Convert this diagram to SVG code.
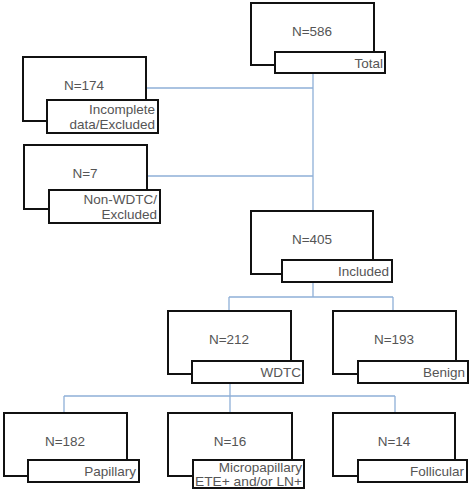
<svg xmlns="http://www.w3.org/2000/svg" width="472" height="493" viewBox="0 0 472 493">
<style>
.m{fill:#fff;stroke:#111;stroke-width:2}
.l{fill:#fff;stroke:#111;stroke-width:2}
.n{font-family:"Liberation Sans",Arial,sans-serif;font-size:13.5px;fill:#555;text-anchor:middle}
.t{font-family:"Liberation Sans",Arial,sans-serif;font-size:13.5px;fill:#555;text-anchor:end}
.c{fill:none;stroke:#8fb0d8;stroke-width:1.3}
</style>
<rect width="472" height="493" fill="#fff"/>
<g id="connectors">
<path class="c" d="M313 73V211M147 88H313M147 176H313"/>
<path class="c" d="M313 282V297M229 297H393M229 297V311M393 297V311"/>
<path class="c" d="M230 383V396M64 396H395M64 396V413M230 396V413M395 396V413"/>
</g>
<g id="total">
<rect class="m" x="251" y="3" width="123" height="62"/>
<text class="n" x="312" y="36">N=586</text>
<rect class="l" x="275" y="52" width="110" height="21"/>
<text class="t" x="383" y="68">Total</text>
</g>
<g id="incomplete">
<rect class="m" x="23" y="57" width="123" height="64"/>
<text class="n" x="84" y="90">N=174</text>
<rect class="l" x="47" y="100" width="111" height="33"/>
<text class="t" x="155" y="114">Incomplete</text>
<text class="t" x="155" y="129">data/Excluded</text>
</g>
<g id="nonwdtc">
<rect class="m" x="24" y="145" width="123" height="64"/>
<text class="n" x="85" y="178">N=7</text>
<rect class="l" x="49" y="190" width="111" height="33"/>
<text class="t" x="157" y="204">Non-WDTC/</text>
<text class="t" x="157" y="219">Excluded</text>
</g>
<g id="included">
<rect class="m" x="251" y="211" width="122" height="63"/>
<text class="n" x="312" y="244">N=405</text>
<rect class="l" x="282" y="260" width="110" height="22"/>
<text class="t" x="389" y="276">Included</text>
</g>
<g id="wdtc">
<rect class="m" x="168" y="311" width="123" height="63"/>
<text class="n" x="229" y="344">N=212</text>
<rect class="l" x="192" y="361" width="111" height="22"/>
<text class="t" x="301" y="377">WDTC</text>
</g>
<g id="benign">
<rect class="m" x="333" y="311" width="123" height="63"/>
<text class="n" x="394" y="344">N=193</text>
<rect class="l" x="358" y="361" width="110" height="22"/>
<text class="t" x="465" y="377">Benign</text>
</g>
<g id="papillary">
<rect class="m" x="4" y="413" width="123" height="63"/>
<text class="n" x="65" y="446">N=182</text>
<rect class="l" x="28" y="460" width="111" height="22"/>
<text class="t" x="136" y="476">Papillary</text>
</g>
<g id="micropapillary">
<rect class="m" x="168" y="413" width="124" height="63"/>
<text class="n" x="230" y="446">N=16</text>
<rect class="l" x="193" y="460" width="111" height="28"/>
<text class="t" x="302" y="472">Micropapillary</text>
<text class="t" x="302" y="486" textLength="107" lengthAdjust="spacingAndGlyphs">ETE+ and/or LN+</text>
</g>
<g id="follicular">
<rect class="m" x="333" y="413" width="122" height="63"/>
<text class="n" x="394" y="446">N=14</text>
<rect class="l" x="358" y="460" width="109" height="22"/>
<text class="t" x="464" y="476">Follicular</text>
</g>
</svg>
